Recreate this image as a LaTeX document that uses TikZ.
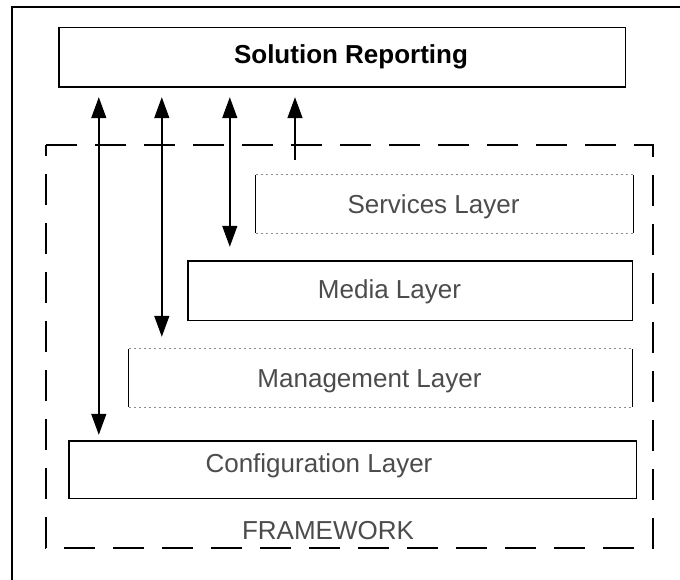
\documentclass[tikz,border=0pt]{standalone}
\usepackage{fontspec}
\setmainfont{Liberation Sans}
\usetikzlibrary{arrows.meta}

\begin{document}
\begin{tikzpicture}[x=1pt,y=-1pt,
  boxnode/.style={rectangle,inner sep=0pt,draw=none},
  solidedge/.style={draw=black,line width=1.4pt},
  thinedge/.style={draw=black,line width=1pt},
  faintedge/.style={draw=black!45,line width=0.9pt,dash pattern=on 2pt off 3pt},
  frameline/.style={draw=black,line width=1.3pt},
  fwdash/.style={draw=black,line width=1.2pt,dash pattern=on 31pt off 18pt},
  headtext/.style={font=\fontsize{26}{30}\selectfont\bfseries,text=black,inner sep=0pt},
  layertext/.style={font=\fontsize{26}{30}\selectfont,text=black!70,inner sep=0pt},
  linkarrow/.style={line width=1.4pt,black},
  biarrow/.style={linkarrow,{Triangle[length=21pt,width=15pt]}-{Triangle[length=21pt,width=15pt]}},
  uparrow/.style={linkarrow,-{Triangle[length=21pt,width=15pt]}},
]
\useasboundingbox (0,0) rectangle (680,580);
\fill[white] (0,0) rectangle (680,580);

% outer page frame (left and top edges)
\draw[frameline] (12,580) -- (12,7) -- (680,7);

% framework border
\draw[fwdash] (46,145) -- (653,145) -- (653,548) -- (46,548) -- cycle;

% boxes
\node[boxnode,minimum width=566pt,minimum height=59pt] (sol) at (342,57.5) {};
\node[boxnode,minimum width=377pt,minimum height=58pt] (svc) at (444.5,204) {};
\node[boxnode,minimum width=444pt,minimum height=59pt] (med) at (410,290.5) {};
\node[boxnode,minimum width=503pt,minimum height=58pt] (mgt) at (380.5,378) {};
\node[boxnode,minimum width=567pt,minimum height=57pt] (cfg) at (352.5,469.5) {};

% box outlines
\draw[solidedge] (sol.south west) rectangle (sol.north east);
\draw[solidedge] (med.south west) rectangle (med.north east);
\draw[solidedge] (cfg.south west) rectangle (cfg.north east);

\draw[thinedge] (svc.north west) -- (svc.south west);
\draw[thinedge] (svc.north east) -- (svc.south east);
\draw[faintedge] (svc.north west) -- (svc.north east);
\draw[faintedge] (svc.south west) -- (svc.south east);

\draw[thinedge] (mgt.north west) -- (mgt.south west);
\draw[thinedge] (mgt.north east) -- (mgt.south east);
\draw[faintedge] (mgt.north west) -- (mgt.north east);
\draw[faintedge] (mgt.south west) -- (mgt.south east);

% labels
\node[headtext,anchor=base] (solt) at (351,64) {Solution Reporting};
\node[layertext,anchor=base] (svct) at (433.5,214) {Services Layer};
\node[layertext,anchor=base] (medt) at (389.5,298) {Media Layer};
\node[layertext,anchor=base] (mgtt) at (369.5,387) {Management Layer};
\node[layertext,anchor=base] (cfgt) at (319,472) {Configuration Layer};
\node[layertext,anchor=base] (fwt) at (328,539) {FRAMEWORK};

% connectors
\coordinate (svcup) at (295,160);
\draw[biarrow,shorten <=10pt,shorten >=6pt]
  ([xshift=40pt]sol.south west) -- ([xshift=40pt]sol.south west |- cfg.north);
\draw[biarrow,shorten <=10pt,shorten >=12pt]
  ([xshift=103pt]sol.south west) -- ([xshift=103pt]sol.south west |- mgt.north);
\draw[biarrow,shorten <=10pt,shorten >=14pt]
  ([xshift=171pt]sol.south west) -- ([xshift=171pt]sol.south west |- med.north);
\draw[uparrow,shorten >=10pt]
  (svcup) -- (svcup |- sol.south);
\end{tikzpicture}
\end{document}
